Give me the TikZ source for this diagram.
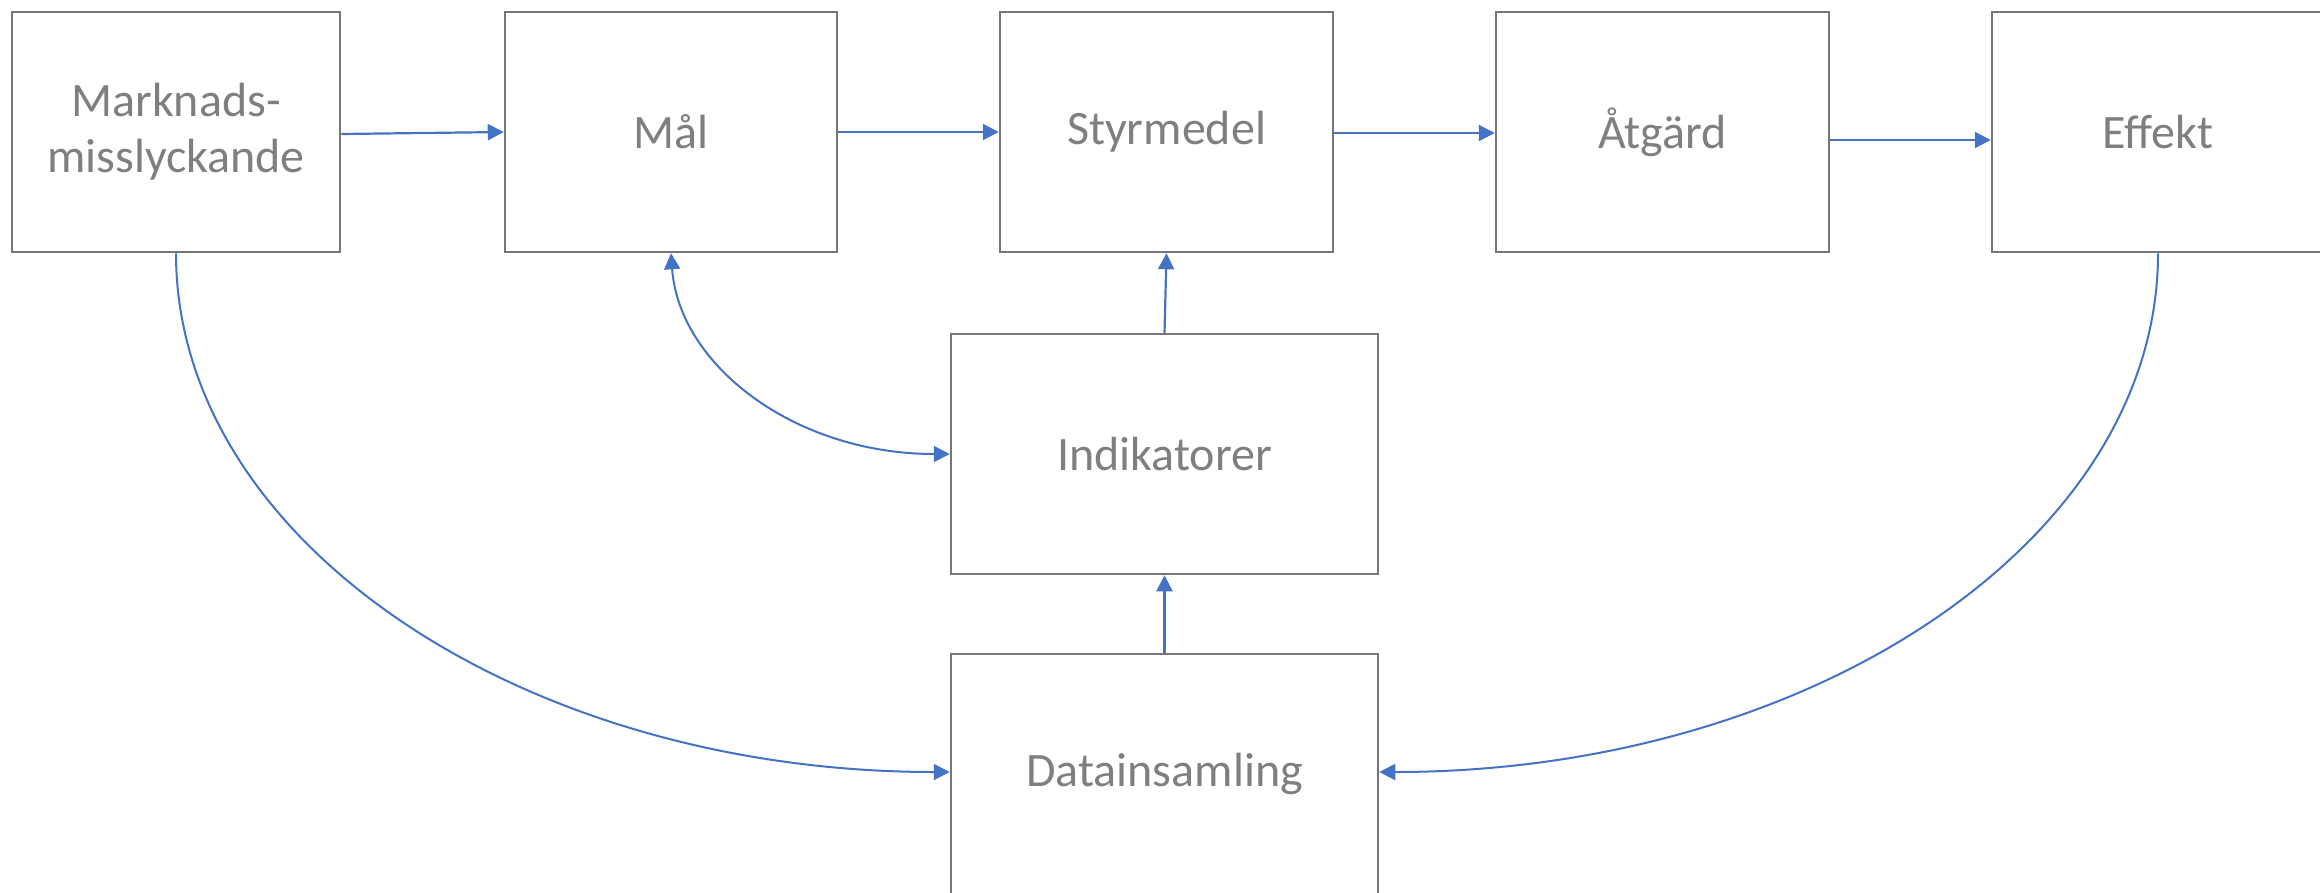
\documentclass[tikz,border=0pt]{standalone}
\usepackage{fontspec}
\setmainfont{Carlito}
\usetikzlibrary{arrows.meta}
\definecolor{boxgray}{HTML}{767676}
\definecolor{txtgray}{HTML}{7F7F7F}
\definecolor{arrblue}{HTML}{4472C4}

\begin{document}
\begin{tikzpicture}[x=1pt, y=-1pt,
    >={Triangle[length=16pt,width=16pt]},
    blk/.style={draw=boxgray, line width=2.5pt, minimum height=240pt,
      inner sep=0pt, align=center, text=txtgray,
      font=\fontsize{48}{56}\selectfont},
    arr/.style={draw=arrblue, line width=2.2pt, ->},
    loopline/.style={draw=arrblue, line width=2pt}]
        \useasboundingbox (0,0) rectangle (2320,892);

        \node[blk, minimum width=328pt] (marknad) at (176, 132)  {Marknads-\\misslyckande};
        \node[blk, minimum width=332pt] (mal)     at (671, 132)  {Mål};
        \node[blk, minimum width=333pt] (styr)    at (1166.5, 132) {Styrmedel};
        \node[blk, minimum width=333pt] (atgard)  at (1662.5, 132) {Åtgärd};
        \node[blk, minimum width=332pt] (effekt)  at (2158, 132) {Effekt};
        \node[blk, minimum width=427pt] (indik)   at (1164.5, 454) {Indikatorer};
        \node[blk, minimum width=427pt] (datain)  at (1164.5, 774) {Datainsamling};

        \draw[arr] ([yshift=-2pt]marknad.east) -- (mal.west);
        \draw[arr] (mal.east) -- (styr.west);
        \draw[arr] ([yshift=-1pt]styr.east) -- ([yshift=-1pt]atgard.west);
        \draw[arr] ([yshift=-8pt]atgard.east) -- ([yshift=-8pt]effekt.west);
        \draw[arr] (indik.north) -- (styr.south);
        \draw[arr] (datain.north) -- (indik.south);

        \draw[loopline, <->] (mal.south) .. controls +(8,112) and +(-155,0) .. (indik.west);
        \draw[loopline, ->] (marknad.south) .. controls +(0,288) and +(-428,0) .. ([yshift=2pt]datain.west);
        \draw[loopline, ->] (effekt.south) .. controls +(0,288) and +(431,0) .. ([yshift=2pt]datain.east);
      \end{tikzpicture}
\end{document}
